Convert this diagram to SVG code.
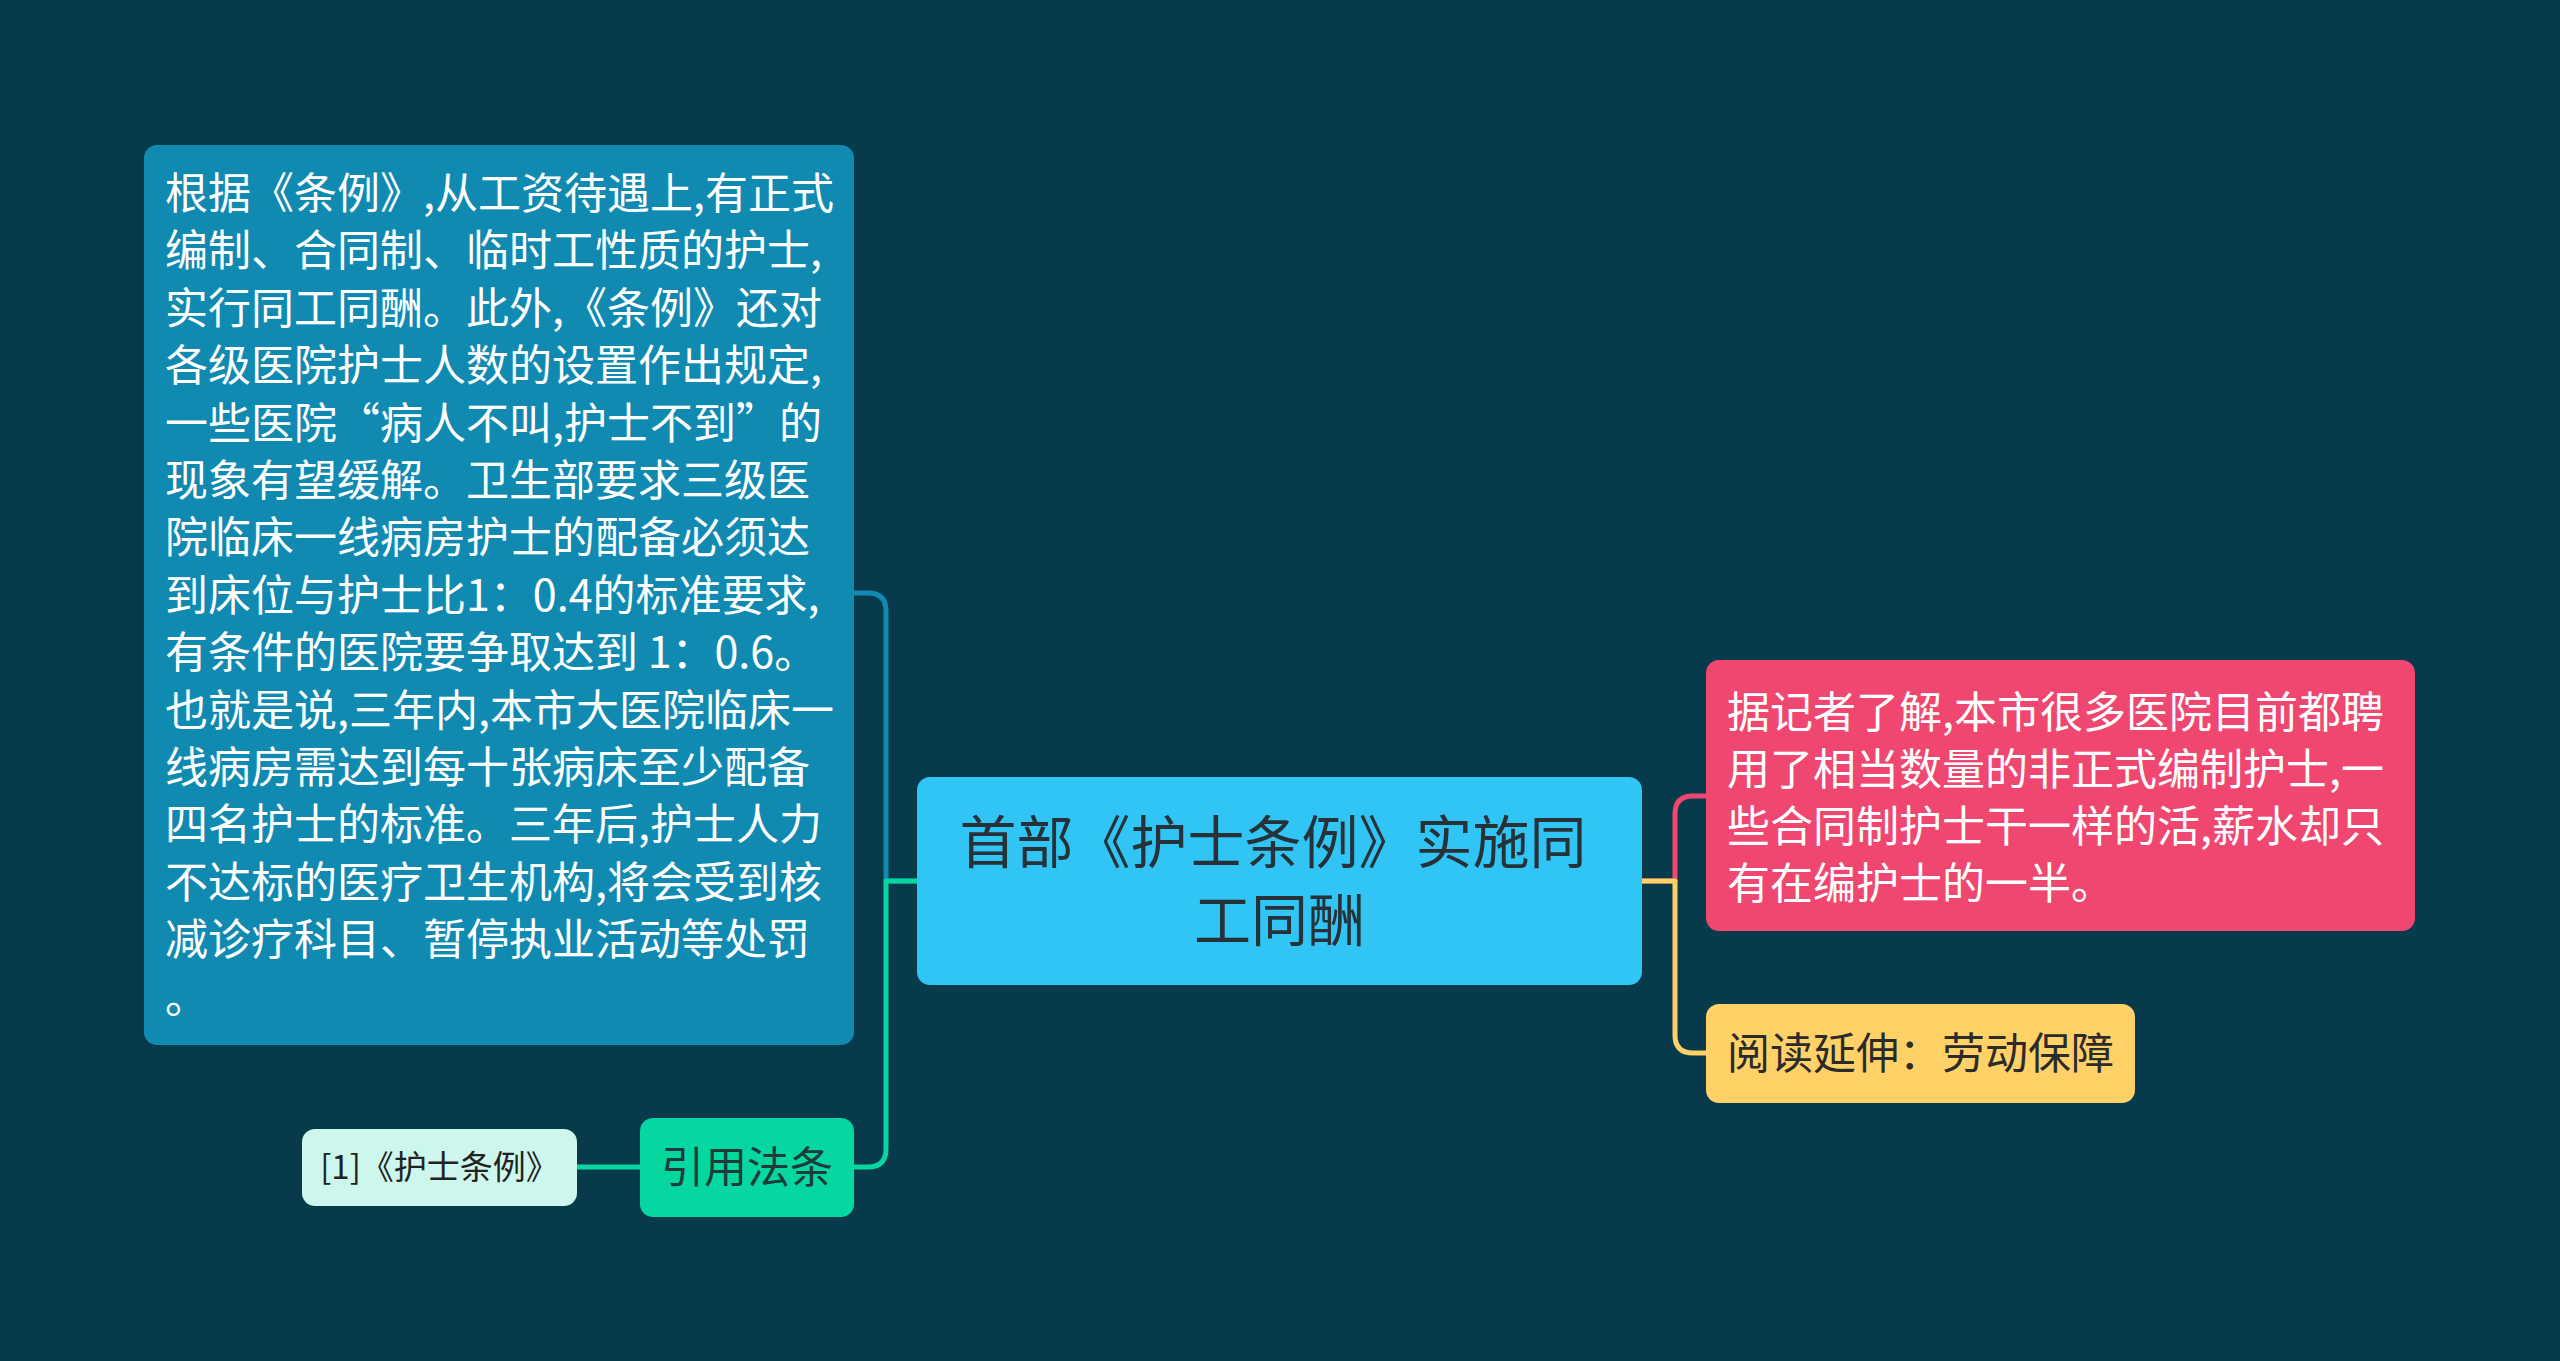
<svg xmlns="http://www.w3.org/2000/svg" width="2560" height="1361" viewBox="0 0 2560 1361">
<style>
text{font-family:"Noto Sans CJK SC","Noto Sans",sans-serif;}
.t43{font-size:43px;}
.white{fill:#ffffff;}
.dark{fill:#2b2b2b;}
.conn{fill:none;stroke-width:5;stroke-linecap:round;stroke-linejoin:round;}
</style>
<rect x="0" y="0" width="2560" height="1361" fill="#073b4c"/>
<g id="connectors">
<path class="conn" stroke="#118ab2" d="M917 881 H886 V611 Q886 593 868 593 H854"/>
<path class="conn" stroke="#06d6a0" d="M917 881 H886 V1149 Q886 1167 868 1167 H854"/>
<path class="conn" stroke="#06d6a0" d="M640 1167 H577"/>
<path class="conn" stroke="#ef476f" d="M1642 881 H1675 V814 Q1675 796 1693 796 H1706"/>
<path class="conn" stroke="#ffd166" d="M1642 881 H1675 V1035 Q1675 1053 1693 1053 H1706"/>
</g>
<g id="node-left-text">
<rect x="144" y="145" width="710" height="900" rx="13" fill="#118ab2"/>
<text class="t43 white" x="165">
<tspan x="165" y="209">根据《条例》,从工资待遇上,有正式</tspan>
<tspan x="165" y="266.4">编制、合同制、临时工性质的护士,</tspan>
<tspan x="165" y="323.8">实行同工同酬。此外,《条例》还对</tspan>
<tspan x="165" y="381.2">各级医院护士人数的设置作出规定,</tspan>
<tspan x="165" y="438.6">一些医院“病人不叫,护士不到”的</tspan>
<tspan x="165" y="496">现象有望缓解。卫生部要求三级医</tspan>
<tspan x="165" y="553.4">院临床一线病房护士的配备必须达</tspan>
<tspan x="165" y="610.8">到床位与护士比1：0.4的标准要求,</tspan>
<tspan x="165" y="668.2">有条件的医院要争取达到 1：0.6。</tspan>
<tspan x="165" y="725.6">也就是说,三年内,本市大医院临床一</tspan>
<tspan x="165" y="783">线病房需达到每十张病床至少配备</tspan>
<tspan x="165" y="840.4">四名护士的标准。三年后,护士人力</tspan>
<tspan x="165" y="897.8">不达标的医疗卫生机构,将会受到核</tspan>
<tspan x="165" y="955.2">减诊疗科目、暂停执业活动等处罚</tspan>
<tspan x="165" y="1012.6">。</tspan>
</text>
</g>
<g id="node-center">
<rect x="917" y="777" width="725" height="208" rx="13" fill="#30c5f5"/>
<text x="1279.5" font-size="57" text-anchor="middle" fill="#263238">
<tspan x="1279.5" y="863">首部《护士条例》实施同</tspan>
<tspan x="1279.5" y="941">工同酬</tspan>
</text>
</g>
<g id="node-pink">
<rect x="1706" y="660" width="709" height="271" rx="13" fill="#ef476f"/>
<text class="t43 white">
<tspan x="1727" y="728">据记者了解,本市很多医院目前都聘</tspan>
<tspan x="1727" y="785">用了相当数量的非正式编制护士,一</tspan>
<tspan x="1727" y="842">些合同制护士干一样的活,薪水却只</tspan>
<tspan x="1727" y="899">有在编护士的一半。</tspan>
</text>
</g>
<g id="node-yellow">
<rect x="1706" y="1004" width="429" height="99" rx="13" fill="#ffd166"/>
<text class="t43 dark" x="1727" y="1069">阅读延伸：劳动保障</text>
</g>
<g id="node-green">
<rect x="640" y="1118" width="214" height="99" rx="13" fill="#06d6a0"/>
<text class="t43" x="747" y="1183" text-anchor="middle" fill="#1d3b3b">引用法条</text>
</g>
<g id="node-ref">
<rect x="302" y="1129" width="275" height="77" rx="13" fill="#cdf7ec"/>
<text x="439.5" y="1179" font-size="33" text-anchor="middle" fill="#222222">[1]《护士条例》</text>
</g>
</svg>
